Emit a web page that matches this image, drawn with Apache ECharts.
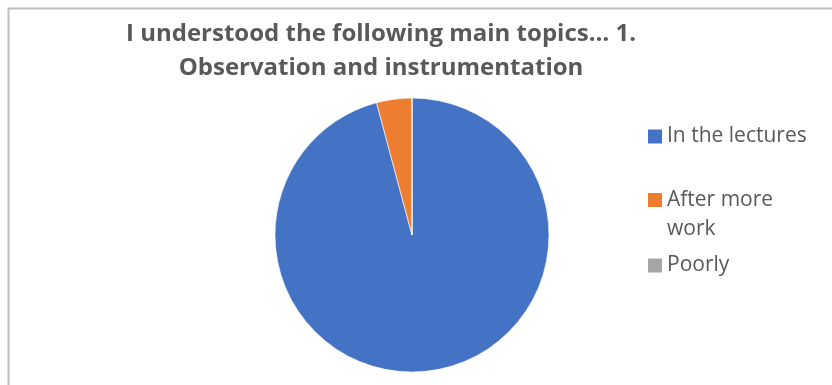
<!DOCTYPE html>
<html>
<head>
<meta charset="utf-8">
<style>
  html, body { margin: 0; padding: 0; background: #ffffff; }
  #chart { width: 832px; height: 385px; }
</style>
<script src="https://cdn.jsdelivr.net/npm/echarts@6/dist/echarts.min.js"></script>
</head>
<body>
<div id="chart"></div>
<script>
// Survey answers for topic 1
const categories = ['In the lectures', 'After more work', 'Poorly'];
const responses = [23, 1, 0];
const sliceColors = ['#4472c4', '#ed7d31', '#a5a5a5'];
const titleText = 'I understood the following main topics\u2026 1.\nObservation and instrumentation';

const chart = echarts.init(document.getElementById('chart'), null, { renderer: 'canvas' });

const fontFamily = '"Open Sans", "Noto Sans", sans-serif';
const textGray = '#595959';
const legendText = { color: textGray, fontSize: 21, fontFamily: fontFamily, lineHeight: 29 };

// Square marker sitting on the first text line of a two-line legend entry
const topAlignedSquare = 'path://M0,0L0,0ZM0,7.5L14,7.5L14,21.5L0,21.5ZM14,58L14,58Z';

function legendFor(name, top, extra) {
  return Object.assign({
    data: [name],
    orient: 'vertical',
    left: 648,
    top: top,
    padding: 0,
    icon: 'rect',
    itemWidth: 14,
    itemHeight: 14,
    itemGap: 0,
    itemStyle: { borderWidth: 0 },
    textStyle: legendText,
    selectedMode: false
  }, extra || {});
}

chart.setOption({
  animation: false,
  backgroundColor: '#ffffff',
  color: sliceColors,
  title: {
    text: titleText,
    left: 381,
    top: 17,
    textAlign: 'center',
    padding: 0,
    textStyle: { color: textGray, fontSize: 24, lineHeight: 34, fontWeight: 'bold', fontFamily: fontFamily }
  },
  legend: [
    legendFor(categories[0], 122),
    legendFor(categories[1], 185.5, {
      icon: topAlignedSquare,
      itemHeight: 58,
      formatter: function () { return 'After more\nwork'; }
    }),
    legendFor(categories[2], 251)
  ],
  graphic: [
    {
      type: 'rect',
      shape: { x: 8.5, y: 8.5, width: 840, height: 400 },
      style: { fill: null, stroke: '#bfbfbf', lineWidth: 2 },
      silent: true
    }
  ],
  series: [
    {
      type: 'pie',
      center: [412, 235],
      radius: 137,
      startAngle: 90,
      clockwise: true,
      label: { show: false },
      labelLine: { show: false },
      emphasis: { disabled: true },
      itemStyle: { borderColor: '#ffffff', borderWidth: 0.6 },
      data: categories.map(function (name, i) {
        return { name: name, value: responses[i] };
      })
    }
  ]
});
</script>
</body>
</html>
